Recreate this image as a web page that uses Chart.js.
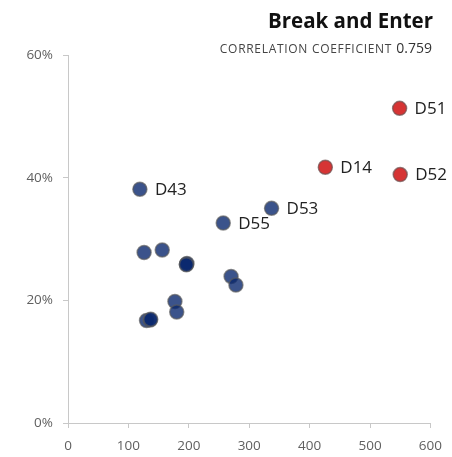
<!DOCTYPE html>
<html>
<head>
<meta charset="utf-8">
<script src="https://cdn.jsdelivr.net/npm/chart.js@4.4.1/dist/chart.umd.min.js"></script>
<style>
  html, body { margin: 0; padding: 0; background: #fff; }
  #wrap { position: relative; width: 452px; height: 457px; }
  #title { position: absolute; right: 19px; top: 6px; font-family: "Open Sans", sans-serif; font-weight: 700; font-size: 20.5px; color: #111; white-space: nowrap; }
  #sub { position: absolute; right: 20px; top: 36px; font-family: "Open Sans", sans-serif; color: #444; white-space: nowrap; }
  #sub .cap { font-size: 12px; letter-spacing: 0.7px; }
  #sub .val { font-size: 14px; color: #333; }
</style>
</head>
<body>
<div id="wrap">
  <canvas id="c" width="452" height="457"></canvas>
  <div id="title">Break and Enter</div>
  <div id="sub"><span class="cap">CORRELATION COEFFICIENT</span> <span class="val">0.759</span></div>
</div>
<script>
// Data
const districts = ["D51", "D14", "D52", "D43", "D53", "D55", "", "", "", "", "", "", "", "", "", "", "", ""];
const xValues   = [549, 426, 550, 119, 337, 257, 126, 156, 196, 197, 270, 278, 177, 180, 130, 136, 137, 196];
const yValues   = [51.3, 41.7, 40.5, 38.1, 35.0, 32.6, 27.8, 28.2, 25.9, 26.0, 23.9, 22.5, 19.8, 18.1, 16.7, 16.8, 16.9, 25.8];
const highlighted = ["D51", "D14", "D52"];
const xTicks = [0, 100, 200, 300, 400, 500, 600];
const yTicks = [0, 20, 40, 60];

const points = xValues.map((x, i) => ({ x: x, y: yValues[i], name: districts[i] }));
const isHi = p => highlighted.includes(p.name);

const labelPlugin = {
  id: 'pointLabels',
  afterDatasetsDraw(chart) {
    const ctx = chart.ctx;
    const xs = chart.scales.x, ys = chart.scales.y;
    ctx.save();
    ctx.font = '17px "Open Sans", sans-serif';
    ctx.fillStyle = '#222';
    ctx.textAlign = 'left';
    ctx.textBaseline = 'middle';
    points.forEach(p => {
      if (!p.name) return;
      ctx.fillText(p.name, xs.getPixelForValue(p.x) + 15, ys.getPixelForValue(p.y) + 1);
    });
    ctx.restore();
  }
};

new Chart(document.getElementById('c'), {
  type: 'scatter',
  data: {
    datasets: [{
      data: points,
      pointRadius: 7,
      pointHoverRadius: 7,
      borderWidth: 1.5,
      backgroundColor: points.map(p => isHi(p) ? 'rgba(210,35,35,0.92)' : 'rgba(10,40,110,0.8)'),
      borderColor: points.map(p => isHi(p) ? 'rgba(110,80,80,0.7)' : 'rgba(90,90,90,0.65)')
    }]
  },
  options: {
    responsive: false,
    animation: false,
    events: [],
    layout: { padding: { top: 55, right: 21, left: 0, bottom: 0 } },
    plugins: { legend: { display: false }, tooltip: { enabled: false } },
    scales: {
      x: {
        type: 'linear', min: 0, max: 600,
        afterBuildTicks: s => { s.ticks = xTicks.map(v => ({ value: v })); },
        afterFit: s => { s.height = 34; },
        grid: { drawOnChartArea: false, drawTicks: true, tickLength: 5, color: '#c8c8c8' },
        border: { display: true, color: '#c8c8c8' },
        ticks: { padding: 10, color: '#606060', font: { family: '"Open Sans", sans-serif', size: 13.5 } }
      },
      y: {
        type: 'linear', min: 0, max: 60,
        afterBuildTicks: s => { s.ticks = yTicks.map(v => ({ value: v })); },
        afterFit: s => { s.width = 68; },
        grid: { drawOnChartArea: false, drawTicks: true, tickLength: 5, color: '#c8c8c8' },
        border: { display: true, color: '#c8c8c8' },
        ticks: { padding: 10, color: '#606060', font: { family: '"Open Sans", sans-serif', size: 13.5 }, callback: v => v + '%' }
      }
    }
  },
  plugins: [labelPlugin]
});
</script>
</body>
</html>
